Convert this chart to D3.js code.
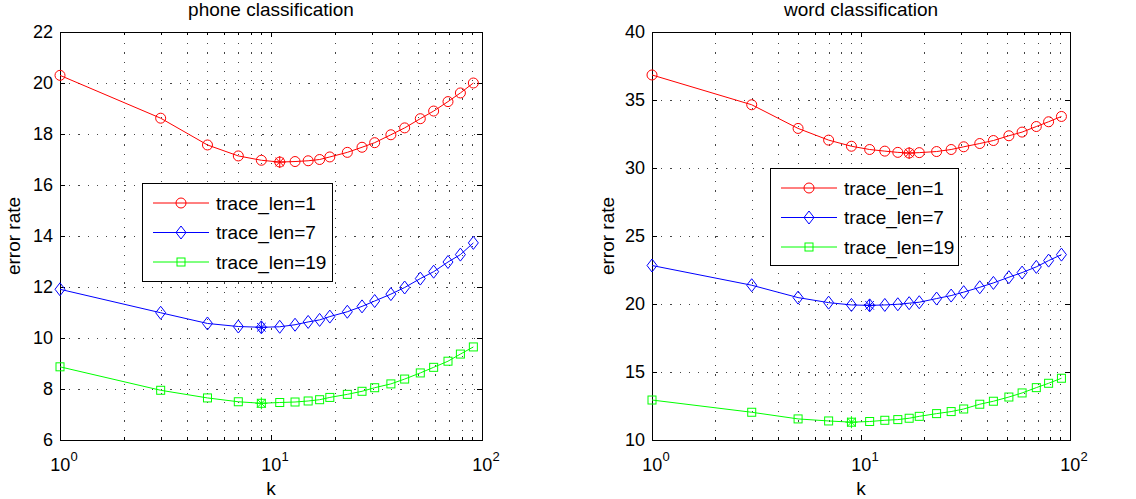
<!DOCTYPE html>
<html lang="en">
<head>
<meta charset="UTF-8">
<title>kNN error rate</title>
<script src="https://d3js.org/d3.v7.min.js"></script>
<style>
  body { margin: 0; background: #fff; }
  text { font-family: "Liberation Sans", Arial, Helvetica, sans-serif; fill: #000; }
</style>
</head>
<body>
<svg id="chart" width="1136" height="499"></svg>
<script>
// k values (log x axis)
const kValues = [1, 3, 5, 7, 9, 11, 13, 15, 17, 19, 23, 27, 31, 37, 43, 51, 59, 69, 79, 91];

// phone classification
const phoneLen1  = [20.3, 18.62, 17.57, 17.14, 16.97, 16.9, 16.92, 16.95, 17.0, 17.1, 17.28, 17.48, 17.66, 17.97, 18.24, 18.6, 18.9, 19.27, 19.61, 20.0];
const phoneLen7  = [11.91, 10.99, 10.57, 10.45, 10.42, 10.44, 10.52, 10.63, 10.71, 10.84, 11.03, 11.24, 11.45, 11.72, 11.98, 12.33, 12.6, 12.98, 13.27, 13.73];
const phoneLen19 = [8.87, 7.95, 7.65, 7.5, 7.44, 7.47, 7.49, 7.53, 7.58, 7.67, 7.79, 7.91, 8.05, 8.2, 8.39, 8.63, 8.85, 9.09, 9.37, 9.65];

// word classification
const wordLen1  = [36.84, 34.65, 32.91, 32.05, 31.6, 31.36, 31.24, 31.15, 31.1, 31.13, 31.21, 31.36, 31.56, 31.8, 32.02, 32.37, 32.64, 33.05, 33.4, 33.79];
const wordLen7  = [22.83, 21.38, 20.47, 20.1, 19.93, 19.9, 19.93, 19.98, 20.06, 20.13, 20.4, 20.62, 20.87, 21.23, 21.55, 21.97, 22.31, 22.73, 23.19, 23.63];
const wordLen19 = [12.94, 12.04, 11.55, 11.4, 11.31, 11.36, 11.45, 11.5, 11.6, 11.74, 11.94, 12.09, 12.28, 12.63, 12.85, 13.16, 13.46, 13.85, 14.17, 14.54];

const seriesNames = ["trace_len=1", "trace_len=7", "trace_len=19"];
const seriesColors = ["#ff0000", "#0000ff", "#00ff00"];
const seriesMarkers = ["circle", "diamond", "square"];

const phoneTicks = [6, 8, 10, 12, 14, 16, 18, 20, 22];
const wordTicks = [10, 15, 20, 25, 30, 35, 40];
const xMajor = [1, 10, 100];
const xMinor = [2, 3, 4, 5, 6, 7, 8, 9, 20, 30, 40, 50, 60, 70, 80, 90];

const svg = d3.select("#chart");
const TICK_FONT = 18, LABEL_FONT = 19;

function drawMarker(g, type, x, y, color) {
    if (type === "circle") {
        g.append("circle").attr("cx", x).attr("cy", y).attr("r", 5)
            .attr("fill", "none").attr("stroke", color).attr("stroke-width", 1);
    } else if (type === "diamond") {
        g.append("path")
            .attr("d", `M${x},${y - 6.5}L${x + 5},${y}L${x},${y + 6.5}L${x - 5},${y}Z`)
            .attr("fill", "none").attr("stroke", color).attr("stroke-width", 1);
    } else if (type === "square") {
        g.append("rect").attr("x", x - 4).attr("y", y - 4).attr("width", 8).attr("height", 8)
            .attr("fill", "none").attr("stroke", color).attr("stroke-width", 1);
    } else if (type === "star") {
        const r = 6, d = 4.3;
        g.append("path")
            .attr("d", `M${x - r},${y}L${x + r},${y}M${x},${y - r}L${x},${y + r}` +
                       `M${x - d},${y - d}L${x + d},${y + d}M${x - d},${y + d}L${x + d},${y - d}`)
            .attr("fill", "none").attr("stroke", color).attr("stroke-width", 1);
    }
}

function drawPanel(cfg) {
    const g = svg.append("g");
    const x = d3.scaleLog().domain([1, 100]).range([cfg.left, cfg.right]);
    const y = d3.scaleLinear().domain(cfg.yDomain).range([cfg.bottom, cfg.top]);

    // sparse dotted grid
    const grid = g.append("g").attr("stroke", "#444").attr("stroke-width", 1.2)
        .attr("stroke-dasharray", "1.2,8").attr("shape-rendering", "crispEdges");
    xMinor.concat([10]).forEach(v => {
        grid.append("line").attr("x1", Math.round(x(v)) + 0.5).attr("x2", Math.round(x(v)) + 0.5)
            .attr("y1", cfg.bottom).attr("y2", cfg.top);
    });
    cfg.yTicks.slice(1, -1).forEach(v => {
        grid.append("line").attr("y1", Math.round(y(v)) + 0.5).attr("y2", Math.round(y(v)) + 0.5)
            .attr("x1", cfg.left).attr("x2", cfg.right);
    });

    // box and ticks
    const ax = g.append("g").attr("stroke", "#000").attr("stroke-width", 1.3).attr("shape-rendering", "crispEdges");
    ax.append("rect").attr("x", cfg.left + 0.5).attr("y", cfg.top + 0.5)
        .attr("width", cfg.right - cfg.left).attr("height", cfg.bottom - cfg.top).attr("fill", "none");
    cfg.yTicks.forEach(v => {
        const yy = Math.round(y(v)) + 0.5;
        ax.append("line").attr("x1", cfg.left).attr("x2", cfg.left + 5).attr("y1", yy).attr("y2", yy);
        ax.append("line").attr("x1", cfg.right - 5).attr("x2", cfg.right).attr("y1", yy).attr("y2", yy);
        g.append("text").attr("x", cfg.left - 7).attr("y", y(v)).attr("dy", "0.35em")
            .attr("text-anchor", "end").style("font-size", TICK_FONT + "px").text(v);
    });
    xMinor.forEach(v => {
        const xx = Math.round(x(v)) + 0.5;
        ax.append("line").attr("x1", xx).attr("x2", xx).attr("y1", cfg.bottom).attr("y2", cfg.bottom - 3);
        ax.append("line").attr("x1", xx).attr("x2", xx).attr("y1", cfg.top).attr("y2", cfg.top + 3);
    });
    xMajor.forEach(v => {
        const xx = Math.round(x(v)) + 0.5;
        ax.append("line").attr("x1", xx).attr("x2", xx).attr("y1", cfg.bottom).attr("y2", cfg.bottom - 5);
        ax.append("line").attr("x1", xx).attr("x2", xx).attr("y1", cfg.top).attr("y2", cfg.top + 5);
        const t = g.append("text").attr("x", x(v) + 4).attr("y", cfg.bottom + 31)
            .attr("text-anchor", "middle").style("font-size", TICK_FONT + "px");
        t.append("tspan").text("10");
        t.append("tspan").attr("dy", -10).style("font-size", "13px").text(Math.log10(v));
    });

    // labels
    g.append("text").attr("x", (cfg.left + cfg.right) / 2).attr("y", 16)
        .attr("text-anchor", "middle").style("font-size", LABEL_FONT + "px").text(cfg.title);
    g.append("text").attr("x", (cfg.left + cfg.right) / 2).attr("y", 495)
        .attr("text-anchor", "middle").style("font-size", LABEL_FONT + "px").text("k");
    g.append("text").attr("transform", `translate(${cfg.yLabelX},${(cfg.top + cfg.bottom) / 2}) rotate(-90)`)
        .attr("text-anchor", "middle").style("font-size", LABEL_FONT + "px").text("error rate");

    // series
    const line = d3.line().x((d, i) => x(kValues[i])).y(d => y(d));
    cfg.series.forEach((vals, s) => {
        const sg = g.append("g");
        sg.append("path").datum(vals).attr("fill", "none")
            .attr("stroke", seriesColors[s]).attr("stroke-width", 1).attr("d", line);
        vals.forEach((v, i) => drawMarker(sg, seriesMarkers[s], x(kValues[i]), y(v), seriesColors[s]));
        const mi = d3.minIndex(vals);
        drawMarker(sg, "star", x(kValues[mi]), y(vals[mi]), seriesColors[s]);
    });

    // legend
    const lg = g.append("g");
    lg.append("rect").attr("x", cfg.legend.x + 0.5).attr("y", cfg.legend.y + 0.5)
        .attr("width", cfg.legend.w).attr("height", cfg.legend.h)
        .attr("fill", "#fff").attr("stroke", "#000").attr("stroke-width", 1.3)
        .attr("shape-rendering", "crispEdges");
    seriesNames.forEach((name, s) => {
        const yy = cfg.legend.y + 20 + s * 29.5;
        const x0 = cfg.legend.x + 11, x1 = cfg.legend.x + 67;
        lg.append("line").attr("x1", x0).attr("x2", x1).attr("y1", yy).attr("y2", yy)
            .attr("stroke", seriesColors[s]).attr("stroke-width", 1);
        drawMarker(lg, seriesMarkers[s], (x0 + x1) / 2, yy, seriesColors[s]);
        lg.append("text").attr("x", cfg.legend.x + 74).attr("y", yy).attr("dy", "0.35em")
            .style("font-size", LABEL_FONT + "px").text(name);
    });
}

drawPanel({
    title: "phone classification",
    left: 60, right: 482, top: 32, bottom: 440,
    yDomain: [6, 22], yTicks: phoneTicks, yLabelX: 20,
    series: [phoneLen1, phoneLen7, phoneLen19],
    legend: { x: 142, y: 183, w: 190, h: 98 }
});

drawPanel({
    title: "word classification",
    left: 652, right: 1070, top: 32, bottom: 440,
    yDomain: [10, 40], yTicks: wordTicks, yLabelX: 614,
    series: [wordLen1, wordLen7, wordLen19],
    legend: { x: 770, y: 168, w: 188, h: 97 }
});
</script>
</body>
</html>
